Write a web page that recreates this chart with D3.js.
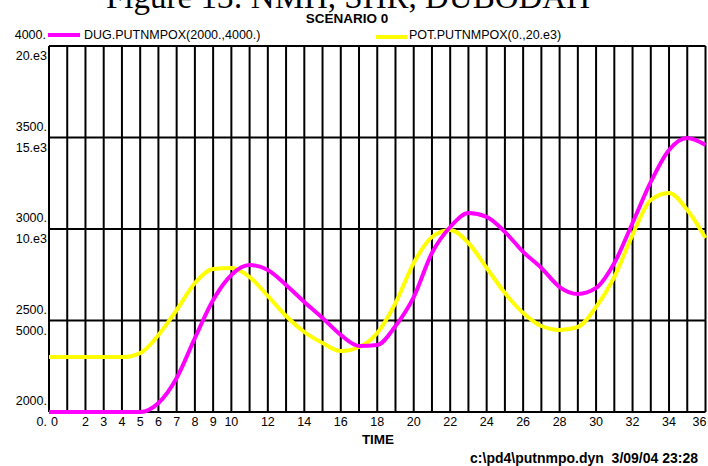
<!DOCTYPE html>
<html>
<head>
<meta charset="utf-8">
<script src="https://cdn.jsdelivr.net/npm/d3@7"></script>
<style>
  body { margin: 0; background: #fff; }
  svg { display: block; }
  text { font-family: "Liberation Sans", Arial, sans-serif; fill: #000; }
</style>
</head>
<body>
<div id="chart"></div>
<script>
// time steps 0..36
var times = [0,1,2,3,4,5,6,7,8,9,10,11,12,13,14,15,16,17,18,19,20,21,22,23,24,25,26,27,28,29,30,31,32,33,34,35,36];
var dugValues = [2000,2000,2000,2000,2000,2000,2049,2186,2404,2612,2749,2803,2776,2694,2601,2514,2421,2361,2366,2470,
                 2628,2869,3011,3087,3066,2984,2875,2787,2683,2645,2678,2814,3033,3257,3432,3497,3459];
var potValues = [3000,3000,3000,3000,3000,3220,4208,5574,7049,7814,7869,7377,6339,5246,4372,3770,3330,3550,4317,5956,
                 8142,9563,9945,9235,7869,6503,5410,4699,4481,4645,5738,7377,9672,11585,11967,11038,9508];
var xTickLabels = [0,2,3,4,5,6,7,8,9,10,12,14,16,18,20,22,24,26,28,30,32,34,36];
var dugTickValues = [2000,2500,3000,3500,4000];
var dugTickLabels = ["2000.","2500.","3000.","3500.","4000."];
var potTickValues = [0,5000,10000,15000,20000];
var potTickLabels = ["0.","5000.","10.e3","15.e3","20.e3"];

var width = 708, height = 466;
var plot = { left: 49, right: 705.5, top: 46, bottom: 412 };

var svg = d3.select("#chart").append("svg").attr("width", width).attr("height", height);

var x = d3.scaleLinear().domain([0, 36]).range([plot.left, plot.right]);
var yDug = d3.scaleLinear().domain([2000, 4000]).range([plot.bottom, plot.top]);
var yPot = d3.scaleLinear().domain([0, 20000]).range([plot.bottom, plot.top]);

// page title, cut off by the top edge like in the scan
svg.append("text")
    .attr("x", 348).attr("y", 8)
    .attr("text-anchor", "middle")
    .style("font-family", "'Liberation Serif', 'Times New Roman', serif")
    .style("font-size", "33px")
    .text("Figure 13: NMH, SHR, DUBODAH");

svg.append("text")
    .attr("x", 347).attr("y", 23)
    .attr("text-anchor", "middle")
    .style("font-size", "13.5px").style("font-weight", "bold")
    .text("SCENARIO 0");

// grid
var grid = svg.append("g").attr("stroke", "#000").attr("stroke-width", 2);
grid.selectAll(".vline")
    .data(times)
  .enter().append("line")
    .attr("class", "vline")
    .attr("x1", function (d) { return x(d); })
    .attr("x2", function (d) { return x(d); })
    .attr("y1", plot.top).attr("y2", plot.bottom);
grid.selectAll(".hline")
    .data(dugTickValues)
  .enter().append("line")
    .attr("class", "hline")
    .attr("x1", plot.left).attr("x2", plot.right)
    .attr("y1", function (d) { return yDug(d); })
    .attr("y2", function (d) { return yDug(d); });

// y labels: DUG above each line, POT below it
var yLabels = svg.append("g").style("font-size", "12.5px").attr("text-anchor", "end");
yLabels.selectAll(".dug")
    .data(dugTickValues)
  .enter().append("text")
    .attr("x", function (d, i) { return i === dugTickValues.length - 1 ? 46 : 47; })
    .attr("y", function (d) { return yDug(d) - 7; })
    .text(function (d, i) { return dugTickLabels[i]; });
yLabels.selectAll(".pot")
    .data(potTickValues)
  .enter().append("text")
    .attr("x", 47)
    .attr("y", function (d) { return yPot(d) + 14; })
    .text(function (d, i) { return potTickLabels[i]; });

// x tick labels
svg.append("g").style("font-size", "12.5px")
    .selectAll("text")
    .data(xTickLabels)
  .enter().append("text")
    .attr("x", function (d) {
        if (d === 0) return x(d) + 2;
        if (d === 36) return x(d) + 1;
        return x(d);
    })
    .attr("y", 426)
    .attr("text-anchor", function (d) { return d === 0 ? "start" : d === 36 ? "end" : "middle"; })
    .text(function (d) { return d; });

svg.append("text")
    .attr("x", 378).attr("y", 444)
    .attr("text-anchor", "middle")
    .style("font-size", "13.5px").style("font-weight", "bold")
    .text("TIME");

svg.append("text")
    .attr("x", 698).attr("y", 463)
    .attr("text-anchor", "end")
    .style("font-size", "14px").style("font-weight", "bold")
    .style("white-space", "pre")
    .text("c:\\pd4\\putnmpo.dyn  3/09/04 23:28");

// series
var dugLine = d3.line()
    .x(function (d, i) { return x(times[i]); })
    .y(function (d) { return yDug(d); })
    .curve(d3.curveMonotoneX);
var potLine = d3.line()
    .x(function (d, i) { return x(times[i]); })
    .y(function (d) { return yPot(d); })
    .curve(d3.curveMonotoneX);

svg.append("path")
    .attr("d", potLine(potValues))
    .attr("fill", "none").attr("stroke", "#ffff00").attr("stroke-width", 4)
    .attr("stroke-linejoin", "round");
svg.append("path")
    .attr("d", dugLine(dugValues))
    .attr("fill", "none").attr("stroke", "#ff00ff").attr("stroke-width", 4)
    .attr("stroke-linejoin", "round");

// legend
var legend = svg.append("g").style("font-size", "12.5px");
legend.append("line")
    .attr("x1", 48).attr("x2", 80).attr("y1", 35).attr("y2", 35)
    .attr("stroke", "#ff00ff").attr("stroke-width", 4);
legend.append("text").attr("x", 84).attr("y", 39).text("DUG.PUTNMPOX(2000.,4000.)");
legend.append("line")
    .attr("x1", 376).attr("x2", 407).attr("y1", 37).attr("y2", 37)
    .attr("stroke", "#ffff00").attr("stroke-width", 4);
legend.append("text").attr("x", 409).attr("y", 39).text("POT.PUTNMPOX(0.,20.e3)");
</script>
</body>
</html>
